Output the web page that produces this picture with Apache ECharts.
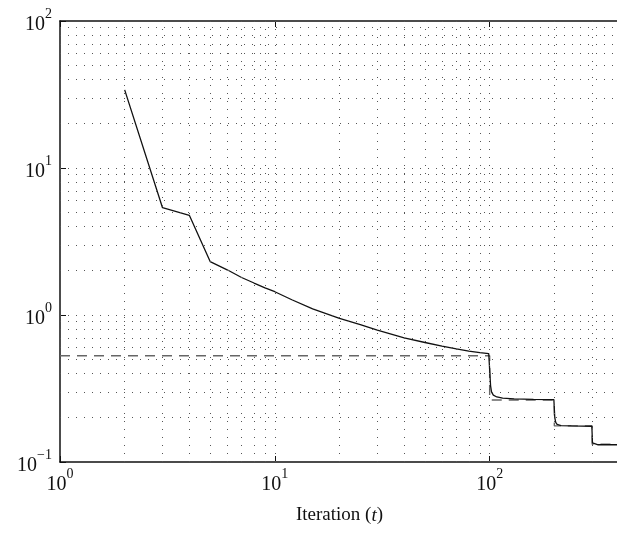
<!DOCTYPE html>
<html>
<head>
<meta charset="utf-8">
<script src="https://cdn.jsdelivr.net/npm/echarts@6/dist/echarts.min.js"></script>
<style>
  html, body { margin: 0; padding: 0; background: #fff; }
  #chart { width: 617px; height: 535px; }
</style>
</head>
<body>
<div id="chart"></div>
<script>
// objective per iteration (solid) and its lower bound (dashed)
const iterX = [2, 3, 4, 5, 6, 7, 8, 9, 10, 12, 15, 20, 25, 30, 40, 50, 60, 70, 80, 90, 99, 100,
  101, 102, 104, 108, 115, 130, 160, 199, 200,
  201, 203, 206, 215, 240, 299, 300,
  301, 305, 320, 400];
const lossY = [34, 5.37, 4.77, 2.31, 2.03, 1.8, 1.65, 1.53, 1.44, 1.27, 1.1, 0.95, 0.86, 0.79, 0.7, 0.65, 0.615, 0.588, 0.568, 0.554, 0.546, 0.545,
  0.33, 0.3, 0.285, 0.277, 0.272, 0.269, 0.267, 0.266, 0.266,
  0.2, 0.186, 0.18, 0.177, 0.176, 0.175, 0.175,
  0.135, 0.132, 0.131, 0.131];
const boundX = [1, 100, 100, 200, 200, 300, 300, 400];
const boundY = [0.528, 0.528, 0.264, 0.264, 0.176, 0.176, 0.132, 0.132];

// dotted grid positions
const xGrid = [2, 3, 4, 5, 6, 7, 8, 9, 10, 20, 30, 40, 50, 60, 70, 80, 90, 100, 200, 300];
const yGrid = [0.2, 0.3, 0.4, 0.5, 0.6, 0.7, 0.8, 0.9, 1, 2, 3, 4, 5, 6, 7, 8, 9, 10, 20, 30, 40, 50, 60, 70, 80, 90];

const serif = "'Liberation Serif', 'DejaVu Serif', serif";
const ink = "#111";

function powLabel(v) {
  const e = Math.round(Math.log10(v));
  if (Math.abs(Math.pow(10, e) - v) / v > 1e-6) return "";
  return "{b|10}{s|" + (e < 0 ? "\u2212" + (-e) : e) + "}";
}

const labelRich = {
  b: { fontSize: 20, fontFamily: serif, color: ink, padding: [8, 0, 0, 0] },
  s: { fontSize: 14, fontFamily: serif, color: ink, verticalAlign: "top" },
};

const chart = echarts.init(document.getElementById("chart"));
chart.setOption({
  animation: false,
  backgroundColor: "#fff",
  grid: { left: 60, top: 21, width: 559, height: 441, outerBoundsMode: "none" },
  xAxis: [
    {
      type: "log",
      logBase: 10,
      min: 1,
      max: 400,
      axisLine: { lineStyle: { color: ink, width: 1.5 } },
      axisTick: { inside: true, length: 6, lineStyle: { color: ink } },
      axisLabel: { formatter: powLabel, rich: labelRich, margin: 5 },
      splitLine: { show: false },
      name: "{n|Iteration (}{i|t}{n|)}",
      nameLocation: "middle",
      nameGap: 44,
      nameTextStyle: {
        rich: {
          n: { fontSize: 19, fontFamily: serif, color: ink },
          i: { fontSize: 19, fontFamily: serif, color: ink, fontStyle: "italic" },
        },
      },
    },
    {
      type: "log",
      logBase: 10,
      min: 1,
      max: 400,
      position: "top",
      axisLine: { lineStyle: { color: ink, width: 1.5 } },
      axisTick: { inside: true, length: 6, lineStyle: { color: ink } },
      axisLabel: { show: false },
      splitLine: { show: false },
    },
  ],
  yAxis: {
    type: "log",
    logBase: 10,
    min: 0.1,
    max: 100,
    axisLine: { show: true, lineStyle: { color: ink, width: 1.5 } },
    axisTick: { show: true, inside: true, length: 6, lineStyle: { color: ink } },
    axisLabel: { formatter: powLabel, rich: labelRich, margin: 8 },
    splitLine: { show: false },
  },
  series: [
    {
      type: "line",
      data: [],
      silent: true,
      z: 1,
      markLine: {
        silent: true,
        symbol: ["none", "none"],
        label: { show: false },
        lineStyle: { color: "#555", width: 1, type: [1, 7] },
        data: xGrid.map((v) => ({ xAxis: v })).concat(yGrid.map((v) => ({ yAxis: v }))),
      },
    },
    {
      type: "line",
      data: boundX.map((x, i) => [x, boundY[i]]),
      showSymbol: false,
      symbol: "none",
      z: 3,
      lineStyle: { color: "#666", width: 1.4, type: [10, 7] },
    },
    {
      type: "line",
      data: iterX.map((x, i) => [x, lossY[i]]),
      showSymbol: false,
      symbol: "none",
      z: 4,
      lineStyle: { color: ink, width: 1.3 },
    },
  ],
});
</script>
</body>
</html>
